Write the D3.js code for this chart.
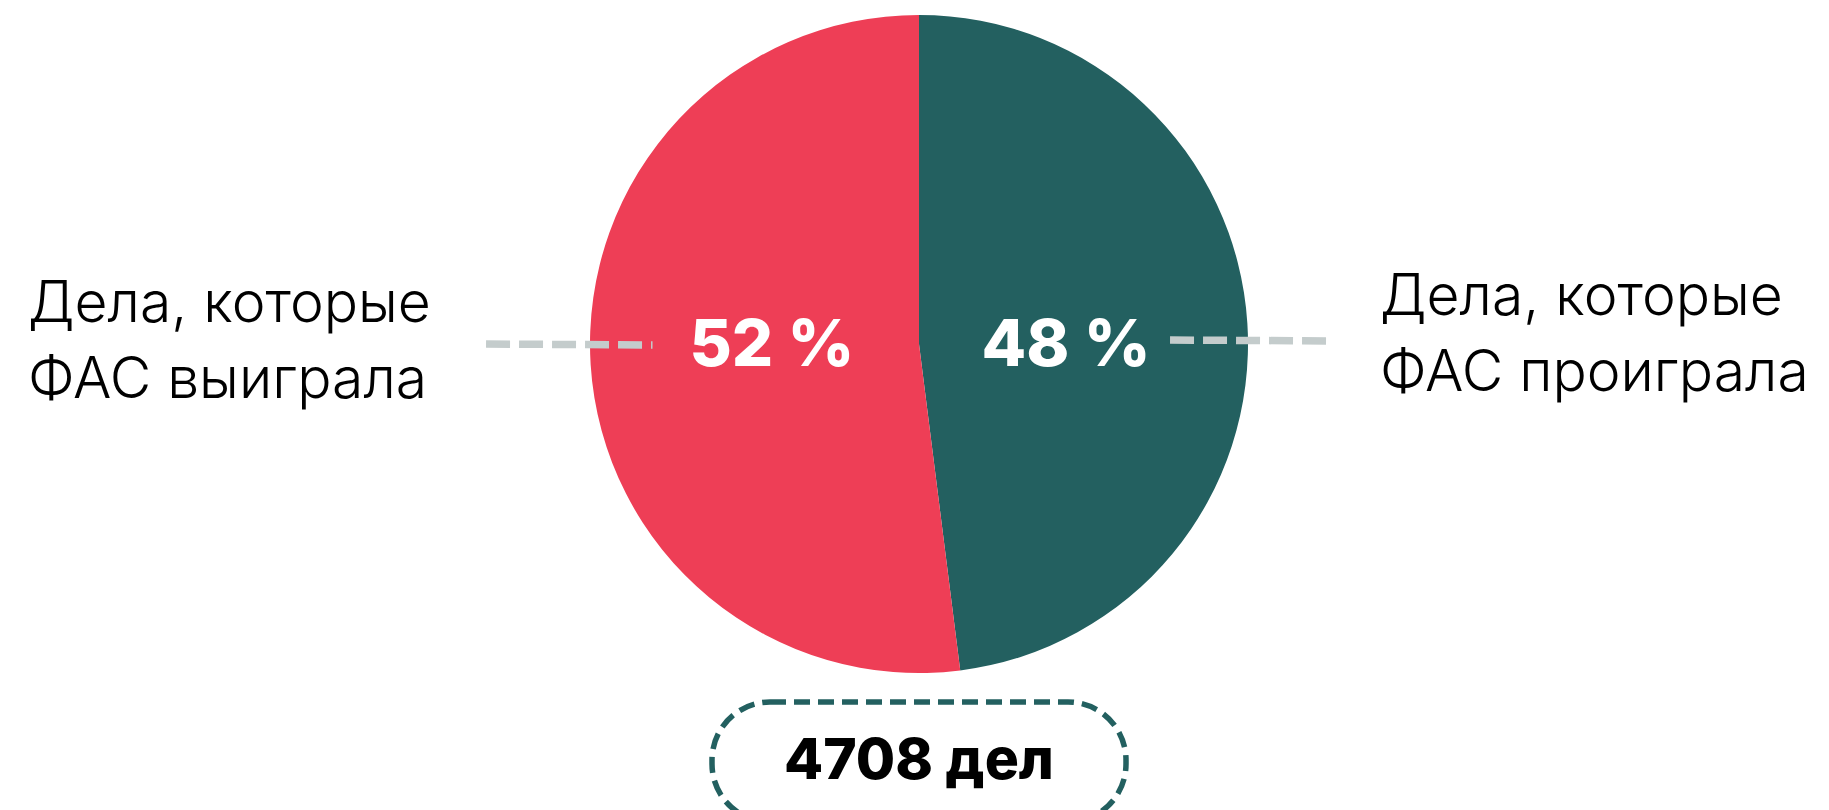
<!DOCTYPE html>
<html>
<head>
<meta charset="utf-8">
<script src="https://cdn.jsdelivr.net/npm/d3@7"></script>
<style>
  html, body { margin: 0; padding: 0; background: #fff; }
  .label-text { font-family: Inter, "Open Sans", sans-serif; font-weight: 300; fill: #000; }
  .pct-text { font-family: Inter, "Open Sans", sans-serif; font-weight: 800; fill: #fff; }
  .total-text { font-family: Inter, "Open Sans", sans-serif; font-weight: 800; fill: #000; }
</style>
</head>
<body>
<div id="chart"></div>
<script>
// data
var categories = ["Дела, которые ФАС проиграла", "Дела, которые ФАС выиграла"];
var labelLines = [["Дела, которые", "ФАС проиграла"], ["Дела, которые", "ФАС выиграла"]];
var shares = [48, 52];
var totalCases = 4708;

var colors = ["#236060", "#ee3e56"];

var width = 1829;
var height = 810;
var cx = 919, cy = 344, radius = 329;

var svg = d3.select("#chart")
  .append("svg")
  .attr("width", width)
  .attr("height", height);

var data = categories.map(function(c, i) {
  return {name: c, value: shares[i], lines: labelLines[i], color: colors[i]};
});

var pie = d3.pie()
  .sort(null)
  .value(function(d) { return d.value; });

var arc = d3.arc()
  .innerRadius(0)
  .outerRadius(radius);

var g = svg.append("g")
  .attr("transform", "translate(" + cx + "," + cy + ")");

var arcs = pie(data);

g.selectAll(".slice")
  .data(arcs)
  .enter().append("path")
  .attr("class", "slice")
  .attr("d", arc)
  .style("fill", function(d) { return d.data.color; });

// side: right for first slice, left for the second
function side(d) { return (d.startAngle + d.endAngle) / 2 < Math.PI ? 1 : -1; }

//Leader dashes (both drawn left to right)
var leader = [
  {from: 0.763, to: 1.258, dy: -4},
  {from: -1.316, to: -0.81, dy: 0}
];

g.selectAll(".leader")
  .data(arcs)
  .enter().append("line")
  .attr("class", "leader")
  .attr("x1", function(d, i) { return radius * leader[i].from; })
  .attr("x2", function(d, i) { return radius * leader[i].to; })
  .attr("y1", function(d, i) { return leader[i].dy; })
  .attr("y2", function(d, i) { return leader[i].dy + 1; })
  .style("stroke", "#c4cccc")
  .style("stroke-width", 7.5)
  .style("stroke-dasharray", "24 9");

//Percent labels
g.selectAll(".pct-text")
  .data(arcs)
  .enter().append("text")
  .attr("class", "pct-text")
  .attr("x", function(d) { return side(d) * radius * 0.447; })
  .attr("y", 0)
  .attr("dy", "0.34em")
  .attr("text-anchor", "middle")
  .style("font-size", "65px")
  .text(function(d) { return d.data.value + " %"; });

//Category labels
var labelPos = [
  {x: 1380, y: 315},
  {x: 28, y: 322}
];

data.forEach(function(d, i) {
  var t = svg.append("text")
    .attr("class", "label-text")
    .attr("x", labelPos[i].x)
    .attr("y", labelPos[i].y)
    .style("font-size", "57px");
  d.lines.forEach(function(line, j) {
    t.append("tspan")
      .attr("x", labelPos[i].x)
      .attr("dy", j === 0 ? 0 : 76)
      .text(line);
  });
});

//Total box
var boxW = 414, boxH = 120;
svg.append("rect")
  .attr("x", cx - boxW / 2)
  .attr("y", 702)
  .attr("width", boxW)
  .attr("height", boxH)
  .attr("rx", 58)
  .attr("ry", 58)
  .style("fill", "none")
  .style("stroke", "#236060")
  .style("stroke-width", 5.5)
  .style("stroke-dasharray", "16 8");

svg.append("text")
  .attr("class", "total-text")
  .attr("x", cx)
  .attr("y", 779)
  .attr("text-anchor", "middle")
  .style("font-size", "57px")
  .text(totalCases + " дел");
</script>
</body>
</html>
